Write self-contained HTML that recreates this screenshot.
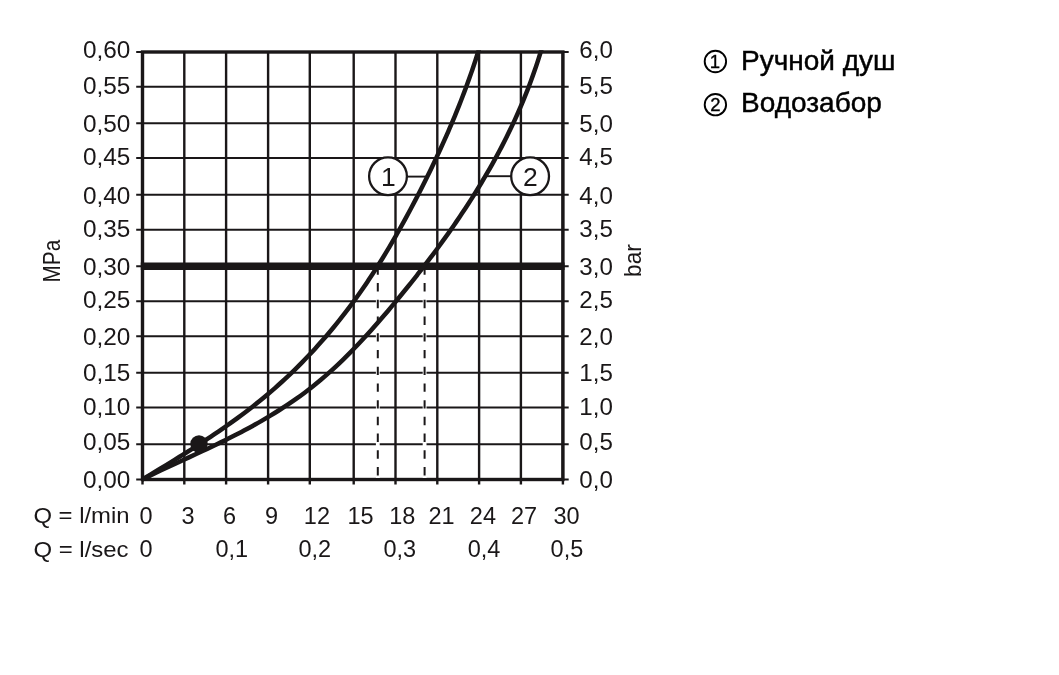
<!DOCTYPE html>
<html lang="ru"><head><meta charset="utf-8"><title>Диаграмма расхода</title>
<style>html,body{margin:0;padding:0;background:#fff}body{width:1059px;height:675px;overflow:hidden;position:relative}svg{position:absolute;left:0;top:0;display:block}text{font-family:"Liberation Sans",sans-serif;fill:#1a1718}.lg{font-size:28px;fill:#000;stroke:#000;stroke-width:0.45px}</style></head><body>
<svg width="1059" height="675" viewBox="0 0 1059 675">
<rect width="1059" height="675" fill="#fff"/>
<g stroke="#1a1718" stroke-width="2.4" fill="none">
<line x1="142.50" y1="52.00" x2="142.50" y2="484.50"/>
<line x1="184.30" y1="52.00" x2="184.30" y2="484.50"/>
<line x1="226.10" y1="52.00" x2="226.10" y2="484.50"/>
<line x1="268.10" y1="52.00" x2="268.10" y2="484.50"/>
<line x1="309.80" y1="52.00" x2="309.80" y2="484.50"/>
<line x1="353.70" y1="52.00" x2="353.70" y2="484.50"/>
<line x1="395.50" y1="52.00" x2="395.50" y2="484.50"/>
<line x1="437.30" y1="52.00" x2="437.30" y2="484.50"/>
<line x1="479.10" y1="52.00" x2="479.10" y2="484.50"/>
<line x1="520.90" y1="52.00" x2="520.90" y2="484.50"/>
<line x1="562.90" y1="52.00" x2="562.90" y2="484.50"/>
</g>
<g stroke="#1a1718" stroke-width="2.1" fill="none">
<line x1="136.20" y1="52.00" x2="568.70" y2="52.00"/>
<line x1="136.20" y1="86.80" x2="568.70" y2="86.80"/>
<line x1="136.20" y1="123.20" x2="568.70" y2="123.20"/>
<line x1="136.20" y1="158.00" x2="568.70" y2="158.00"/>
<line x1="136.20" y1="194.70" x2="568.70" y2="194.70"/>
<line x1="136.20" y1="229.70" x2="568.70" y2="229.70"/>
<line x1="136.20" y1="266.30" x2="568.70" y2="266.30"/>
<line x1="136.20" y1="301.20" x2="568.70" y2="301.20"/>
<line x1="136.20" y1="336.20" x2="568.70" y2="336.20"/>
<line x1="136.20" y1="372.70" x2="568.70" y2="372.70"/>
<line x1="136.20" y1="407.50" x2="568.70" y2="407.50"/>
<line x1="136.20" y1="444.30" x2="568.70" y2="444.30"/>
<line x1="136.20" y1="479.50" x2="568.70" y2="479.50"/>
</g>
<rect x="142.50" y="52.00" width="420.40" height="427.50" stroke="#1a1718" stroke-width="3.4" fill="none"/>
<line x1="377.80" y1="266.00" x2="377.80" y2="477.90" stroke="#fff" stroke-width="3.8"/>
<line x1="377.80" y1="266.30" x2="377.80" y2="478.00" stroke="#1a1718" stroke-width="2" stroke-dasharray="8.4 8.33"/>
<line x1="424.60" y1="266.00" x2="424.60" y2="477.90" stroke="#fff" stroke-width="3.8"/>
<line x1="424.60" y1="266.30" x2="424.60" y2="478.00" stroke="#1a1718" stroke-width="2" stroke-dasharray="8.4 8.33"/>
<line x1="140.80" y1="266.30" x2="564.60" y2="266.30" stroke="#1a1718" stroke-width="7.6"/>
<clipPath id="cp"><rect x="0" y="50.30" width="1059" height="675"/></clipPath>
<g clip-path="url(#cp)" stroke="#1a1718" stroke-width="4.5" fill="none" stroke-linecap="butt" stroke-linejoin="round">
<path d="M142.30,479.49 C143.64,478.68 147.68,476.25 150.37,474.63 C153.06,473.00 155.76,471.37 158.45,469.74 C161.15,468.10 163.84,466.46 166.53,464.82 C169.22,463.17 171.91,461.52 174.60,459.86 C177.29,458.19 179.97,456.53 182.65,454.85 C185.33,453.17 188.00,451.48 190.67,449.78 C193.34,448.08 196.00,446.38 198.65,444.66 C201.31,442.94 203.96,441.21 206.59,439.46 C209.23,437.72 211.86,435.96 214.48,434.19 C217.10,432.42 219.71,430.63 222.31,428.83 C224.90,427.03 227.49,425.21 230.06,423.38 C232.63,421.55 235.20,419.70 237.74,417.83 C240.28,415.96 242.82,414.08 245.33,412.17 C247.85,410.27 250.35,408.34 252.83,406.40 C255.31,404.45 257.78,402.49 260.22,400.50 C262.67,398.52 265.10,396.51 267.50,394.48 C269.91,392.45 272.30,390.39 274.67,388.32 C277.03,386.24 279.38,384.14 281.71,382.02 C284.04,379.90 286.34,377.76 288.63,375.60 C290.92,373.43 293.18,371.25 295.43,369.04 C297.68,366.83 299.90,364.61 302.11,362.36 C304.32,360.11 306.50,357.85 308.67,355.56 C310.83,353.27 312.98,350.97 315.10,348.64 C317.23,346.32 319.33,343.97 321.42,341.61 C323.50,339.25 325.57,336.87 327.61,334.47 C329.65,332.07 331.68,329.65 333.68,327.22 C335.68,324.78 337.66,322.33 339.62,319.86 C341.59,317.40 343.53,314.91 345.45,312.41 C347.37,309.91 349.27,307.39 351.15,304.86 C353.03,302.33 354.89,299.78 356.73,297.21 C358.57,294.65 360.38,292.07 362.18,289.48 C363.98,286.89 365.76,284.28 367.52,281.66 C369.28,279.04 371.02,276.41 372.75,273.76 C374.47,271.12 376.18,268.46 377.87,265.79 C379.56,263.12 381.23,260.44 382.89,257.74 C384.54,255.05 386.18,252.35 387.80,249.63 C389.43,246.92 391.03,244.20 392.63,241.46 C394.22,238.73 395.80,235.99 397.36,233.24 C398.92,230.49 400.47,227.73 402.01,224.96 C403.54,222.19 405.06,219.42 406.57,216.64 C408.08,213.86 409.58,211.07 411.06,208.27 C412.55,205.48 414.02,202.68 415.48,199.87 C416.94,197.07 418.39,194.25 419.83,191.44 C421.27,188.62 422.70,185.80 424.12,182.98 C425.53,180.15 426.94,177.32 428.33,174.48 C429.72,171.65 431.11,168.80 432.47,165.96 C433.84,163.11 435.20,160.26 436.54,157.40 C437.88,154.54 439.21,151.68 440.52,148.81 C441.84,145.94 443.14,143.07 444.43,140.19 C445.71,137.31 446.98,134.42 448.24,131.53 C449.50,128.64 450.74,125.74 451.97,122.84 C453.19,119.94 454.41,117.03 455.60,114.11 C456.80,111.20 457.98,108.27 459.14,105.35 C460.30,102.42 461.45,99.48 462.58,96.54 C463.70,93.60 464.82,90.65 465.91,87.70 C467.00,84.75 468.08,81.79 469.14,78.82 C470.20,75.85 471.24,72.88 472.26,69.90 C473.28,66.92 474.28,63.93 475.26,60.93 C476.25,57.94 477.27,54.70 478.15,51.93 C479.03,49.15 480.15,45.57 480.55,44.29"/>
<path d="M142.30,479.49 C143.81,478.75 148.34,476.48 151.38,475.00 C154.42,473.52 157.48,472.05 160.55,470.59 C163.62,469.13 166.70,467.68 169.79,466.24 C172.88,464.79 175.98,463.36 179.08,461.92 C182.19,460.48 185.30,459.05 188.41,457.61 C191.52,456.17 194.64,454.74 197.75,453.29 C200.87,451.84 203.98,450.39 207.09,448.92 C210.20,447.46 213.30,445.98 216.40,444.49 C219.50,443.00 222.59,441.50 225.67,439.97 C228.75,438.45 231.82,436.90 234.87,435.34 C237.93,433.77 240.97,432.19 244.00,430.58 C247.03,428.97 250.04,427.34 253.04,425.68 C256.04,424.02 259.02,422.34 261.98,420.63 C264.94,418.92 267.88,417.18 270.80,415.41 C273.72,413.64 276.62,411.85 279.49,410.02 C282.36,408.19 285.21,406.34 288.04,404.44 C290.86,402.55 293.66,400.63 296.43,398.67 C299.20,396.71 301.95,394.71 304.66,392.68 C307.37,390.64 310.05,388.57 312.70,386.47 C315.36,384.36 317.98,382.21 320.57,380.03 C323.16,377.85 325.72,375.63 328.26,373.39 C330.79,371.14 333.30,368.86 335.78,366.55 C338.27,364.24 340.72,361.90 343.16,359.53 C345.59,357.16 348.00,354.77 350.40,352.35 C352.79,349.93 355.15,347.48 357.50,345.02 C359.85,342.55 362.18,340.06 364.49,337.55 C366.80,335.05 369.10,332.51 371.37,329.97 C373.65,327.43 375.91,324.86 378.16,322.28 C380.41,319.71 382.64,317.11 384.87,314.51 C387.09,311.90 389.29,309.29 391.49,306.66 C393.69,304.03 395.88,301.40 398.06,298.75 C400.24,296.11 402.41,293.46 404.57,290.80 C406.73,288.13 408.88,285.47 411.02,282.79 C413.16,280.11 415.28,277.42 417.40,274.73 C419.51,272.03 421.62,269.33 423.71,266.62 C425.80,263.90 427.87,261.18 429.94,258.45 C432.00,255.72 434.05,252.97 436.09,250.22 C438.12,247.47 440.15,244.71 442.15,241.94 C444.16,239.17 446.15,236.39 448.12,233.60 C450.10,230.81 452.06,228.01 454.00,225.20 C455.94,222.39 457.87,219.56 459.77,216.73 C461.68,213.90 463.57,211.06 465.44,208.20 C467.31,205.35 469.16,202.48 471.00,199.61 C472.83,196.73 474.64,193.85 476.43,190.95 C478.23,188.05 480.00,185.14 481.75,182.22 C483.50,179.30 485.24,176.36 486.94,173.42 C488.65,170.48 490.34,167.52 492.00,164.55 C493.67,161.58 495.31,158.60 496.93,155.61 C498.54,152.61 500.14,149.61 501.71,146.59 C503.28,143.57 504.82,140.54 506.34,137.50 C507.87,134.45 509.36,131.40 510.83,128.33 C512.30,125.26 513.74,122.17 515.16,119.08 C516.57,115.98 517.96,112.87 519.33,109.75 C520.69,106.63 522.02,103.49 523.33,100.34 C524.63,97.19 525.91,94.02 527.16,90.84 C528.40,87.67 529.62,84.47 530.81,81.27 C532.00,78.06 533.16,74.84 534.28,71.60 C535.41,68.37 536.51,65.12 537.57,61.85 C538.63,58.58 539.76,54.92 540.66,52.01 C541.57,49.09 542.60,45.63 542.99,44.35"/>
</g>
<circle cx="199" cy="444" r="8.7" fill="#1a1718"/>
<line x1="406" y1="176.6" x2="426" y2="176.6" stroke="#1a1718" stroke-width="1.9"/>
<line x1="487.0" y1="176.2" x2="512" y2="176.2" stroke="#1a1718" stroke-width="1.9"/>
<circle cx="388.0" cy="176.2" r="18.9" fill="#fff" stroke="#1a1718" stroke-width="2.3"/>
<circle cx="530.1" cy="176.2" r="18.9" fill="#fff" stroke="#1a1718" stroke-width="2.3"/>
<text x="388.4" y="185.6" font-size="26.5" text-anchor="middle">1</text>
<text x="530.4" y="185.6" font-size="26.5" text-anchor="middle">2</text>
<text transform="translate(130.4,58.00) scale(1.06,1)" font-size="23" text-anchor="end">0,60</text>
<text transform="translate(130.4,93.90) scale(1.06,1)" font-size="23" text-anchor="end">0,55</text>
<text transform="translate(130.4,131.75) scale(1.06,1)" font-size="23" text-anchor="end">0,50</text>
<text transform="translate(130.4,165.30) scale(1.06,1)" font-size="23" text-anchor="end">0,45</text>
<text transform="translate(130.4,204.00) scale(1.06,1)" font-size="23" text-anchor="end">0,40</text>
<text transform="translate(130.4,237.20) scale(1.06,1)" font-size="23" text-anchor="end">0,35</text>
<text transform="translate(130.4,274.60) scale(1.06,1)" font-size="23" text-anchor="end">0,30</text>
<text transform="translate(130.4,308.20) scale(1.06,1)" font-size="23" text-anchor="end">0,25</text>
<text transform="translate(130.4,344.50) scale(1.06,1)" font-size="23" text-anchor="end">0,20</text>
<text transform="translate(130.4,381.30) scale(1.06,1)" font-size="23" text-anchor="end">0,15</text>
<text transform="translate(130.4,415.00) scale(1.06,1)" font-size="23" text-anchor="end">0,10</text>
<text transform="translate(130.4,450.30) scale(1.06,1)" font-size="23" text-anchor="end">0,05</text>
<text transform="translate(130.4,488.20) scale(1.06,1)" font-size="23" text-anchor="end">0,00</text>
<text transform="translate(579.3,58.00) scale(1.05,1)" font-size="23" text-anchor="start">6,0</text>
<text transform="translate(579.3,93.90) scale(1.05,1)" font-size="23" text-anchor="start">5,5</text>
<text transform="translate(579.3,131.75) scale(1.05,1)" font-size="23" text-anchor="start">5,0</text>
<text transform="translate(579.3,165.30) scale(1.05,1)" font-size="23" text-anchor="start">4,5</text>
<text transform="translate(579.3,204.00) scale(1.05,1)" font-size="23" text-anchor="start">4,0</text>
<text transform="translate(579.3,237.20) scale(1.05,1)" font-size="23" text-anchor="start">3,5</text>
<text transform="translate(579.3,274.60) scale(1.05,1)" font-size="23" text-anchor="start">3,0</text>
<text transform="translate(579.3,308.20) scale(1.05,1)" font-size="23" text-anchor="start">2,5</text>
<text transform="translate(579.3,344.50) scale(1.05,1)" font-size="23" text-anchor="start">2,0</text>
<text transform="translate(579.3,381.30) scale(1.05,1)" font-size="23" text-anchor="start">1,5</text>
<text transform="translate(579.3,415.00) scale(1.05,1)" font-size="23" text-anchor="start">1,0</text>
<text transform="translate(579.3,450.30) scale(1.05,1)" font-size="23" text-anchor="start">0,5</text>
<text transform="translate(579.3,488.20) scale(1.05,1)" font-size="23" text-anchor="start">0,0</text>
<text transform="translate(60.2,282.4) rotate(-90)" font-size="24" textLength="42.6" lengthAdjust="spacingAndGlyphs">MPa</text>
<text transform="translate(641.2,276.9) rotate(-90)" font-size="24" textLength="32.6" lengthAdjust="spacingAndGlyphs">bar</text>
<text x="33.4" y="523.4" font-size="22.5" textLength="96.2" lengthAdjust="spacingAndGlyphs">Q = l/min</text>
<text x="33.4" y="556.8" font-size="22.5" textLength="95.2" lengthAdjust="spacingAndGlyphs">Q = l/sec</text>
<text x="146.0" y="523.5" font-size="23.5" text-anchor="middle">0</text>
<text x="188.0" y="523.5" font-size="23.5" text-anchor="middle">3</text>
<text x="229.6" y="523.5" font-size="23.5" text-anchor="middle">6</text>
<text x="271.6" y="523.5" font-size="23.5" text-anchor="middle">9</text>
<text x="316.9" y="523.5" font-size="23.5" text-anchor="middle">12</text>
<text x="360.5" y="523.5" font-size="23.5" text-anchor="middle">15</text>
<text x="402.2" y="523.5" font-size="23.5" text-anchor="middle">18</text>
<text x="441.6" y="523.5" font-size="23.5" text-anchor="middle">21</text>
<text x="482.9" y="523.5" font-size="23.5" text-anchor="middle">24</text>
<text x="524.0" y="523.5" font-size="23.5" text-anchor="middle">27</text>
<text x="566.5" y="523.5" font-size="23.5" text-anchor="middle">30</text>
<text x="146.0" y="557.1" font-size="23.5" text-anchor="middle">0</text>
<text x="231.8" y="557.1" font-size="23.5" text-anchor="middle">0,1</text>
<text x="314.8" y="557.1" font-size="23.5" text-anchor="middle">0,2</text>
<text x="399.8" y="557.1" font-size="23.5" text-anchor="middle">0,3</text>
<text x="484.0" y="557.1" font-size="23.5" text-anchor="middle">0,4</text>
<text x="566.9" y="557.1" font-size="23.5" text-anchor="middle">0,5</text>
<circle cx="715.4" cy="61.5" r="10.7" fill="none" stroke="#000" stroke-width="1.9"/>
<text x="715.0" y="68.0" font-size="18.5" text-anchor="middle" style="fill:#000;stroke:#000;stroke-width:0.35px">1</text>
<circle cx="715.4" cy="104.7" r="10.7" fill="none" stroke="#000" stroke-width="1.9"/>
<text x="715.4" y="111.2" font-size="18.5" text-anchor="middle" style="fill:#000;stroke:#000;stroke-width:0.35px">2</text>
<text class="lg" x="741.0" y="70.1">Ручной душ</text>
<text class="lg" x="741.0" y="112.2">Водозабор</text>
</svg></body></html>
